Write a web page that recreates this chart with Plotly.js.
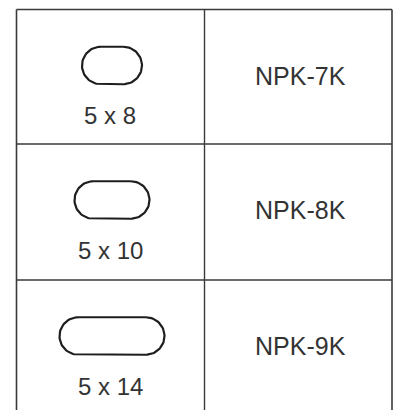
<!DOCTYPE html>
<html>
<head>
<meta charset="utf-8">
<script src="https://cdn.plot.ly/plotly-3.0.1.min.js"></script>
<style>html,body{margin:0;padding:0;background:#fff;}#chart{width:396px;height:410px;}</style>
</head>
<body>
<div id="chart"></div>
<script>
// ---- data ----
var sizeLabels = ["5 x 8", "5 x 10", "5 x 14"];
var slotWidths = [5, 5, 5];
var slotLengths = [8, 10, 14];
var models = ["NPK-7K", "NPK-8K", "NPK-9K"];

(function () {
  // ---- layout geometry (pixels) ----
  var W = 396, H = 410;
  var xL = 16.5, xM = 204.5, xR = 392;
  var rowTops = [9.5, 144, 280];
  var rowH = 136;
  var scale = 7.5;           // px per unit of slot size
  var shapeOffset = 56;      // from row top to slot centre
  var labelOffset = 106;     // from row top to size label centre
  var shapeCx = 112;

  function stadium(cx, cy, len, wid) {
    var r = wid / 2, half = len / 2 - r;
    var xs = [], ys = [];
    var n = 40, i, a;
    for (i = 0; i <= n; i++) {
      a = -Math.PI / 2 + Math.PI * i / n;
      xs.push(cx + half + r * Math.cos(a));
      ys.push(cy + r * Math.sin(a));
    }
    for (i = 0; i <= n; i++) {
      a = Math.PI / 2 + Math.PI * i / n;
      xs.push(cx - half + r * Math.cos(a));
      ys.push(cy + r * Math.sin(a));
    }
    xs.push(xs[0]); ys.push(ys[0]);
    return {x: xs, y: ys};
  }

  var traces = [];
  var annotations = [];
  for (var k = 0; k < models.length; k++) {
    var rowTop = rowTops[k];
    var pts = stadium(shapeCx, rowTop + shapeOffset, slotLengths[k] * scale, slotWidths[k] * scale);
    traces.push({
      type: 'scatter', mode: 'lines', x: pts.x, y: pts.y,
      line: {color: '#1e1e1e', width: 2.2}, hoverinfo: 'skip', showlegend: false
    });
    annotations.push({
      x: shapeCx - 2, y: rowTop + labelOffset, xref: 'x', yref: 'y', text: sizeLabels[k],
      showarrow: false, xanchor: 'center', yanchor: 'middle',
      font: {family: 'Liberation Sans, Arial, sans-serif', size: 24, color: '#333'}
    });
    annotations.push({
      x: (xM + xR) / 2 + 2, y: rowTop + rowH / 2 - 2, xref: 'x', yref: 'y', text: models[k],
      showarrow: false, xanchor: 'center', yanchor: 'middle',
      font: {family: 'Liberation Sans, Arial, sans-serif', size: 25, color: '#333'}
    });
  }

  var lc = '#3a3a3a';
  var shapes = [
    {type: 'line', x0: xL, x1: xR, y0: rowTops[0], y1: rowTops[0], line: {color: lc, width: 1.6}},
    {type: 'line', x0: xL, x1: xR, y0: rowTops[1], y1: rowTops[1], line: {color: lc, width: 1.4}},
    {type: 'line', x0: xL, x1: xR, y0: rowTops[2], y1: rowTops[2], line: {color: lc, width: 1.4}},
    {type: 'line', x0: xL, x1: xL, y0: rowTops[0], y1: H + 5, line: {color: lc, width: 1.6}},
    {type: 'line', x0: xM, x1: xM, y0: rowTops[0], y1: H + 5, line: {color: lc, width: 1.4}},
    {type: 'line', x0: xR, x1: xR, y0: rowTops[0], y1: H + 5, line: {color: lc, width: 1.6}}
  ];
  shapes.forEach(function (s) { s.xref = 'x'; s.yref = 'y'; });

  var layout = {
    width: W, height: H,
    margin: {l: 0, r: 0, t: 0, b: 0, pad: 0},
    paper_bgcolor: '#fff', plot_bgcolor: '#fff',
    xaxis: {range: [0, W], visible: false, fixedrange: true},
    yaxis: {range: [H, 0], visible: false, fixedrange: true},
    shapes: shapes,
    annotations: annotations,
    showlegend: false
  };

  Plotly.newPlot('chart', traces, layout, {staticPlot: true, displayModeBar: false});
})();
</script>
</body>
</html>
